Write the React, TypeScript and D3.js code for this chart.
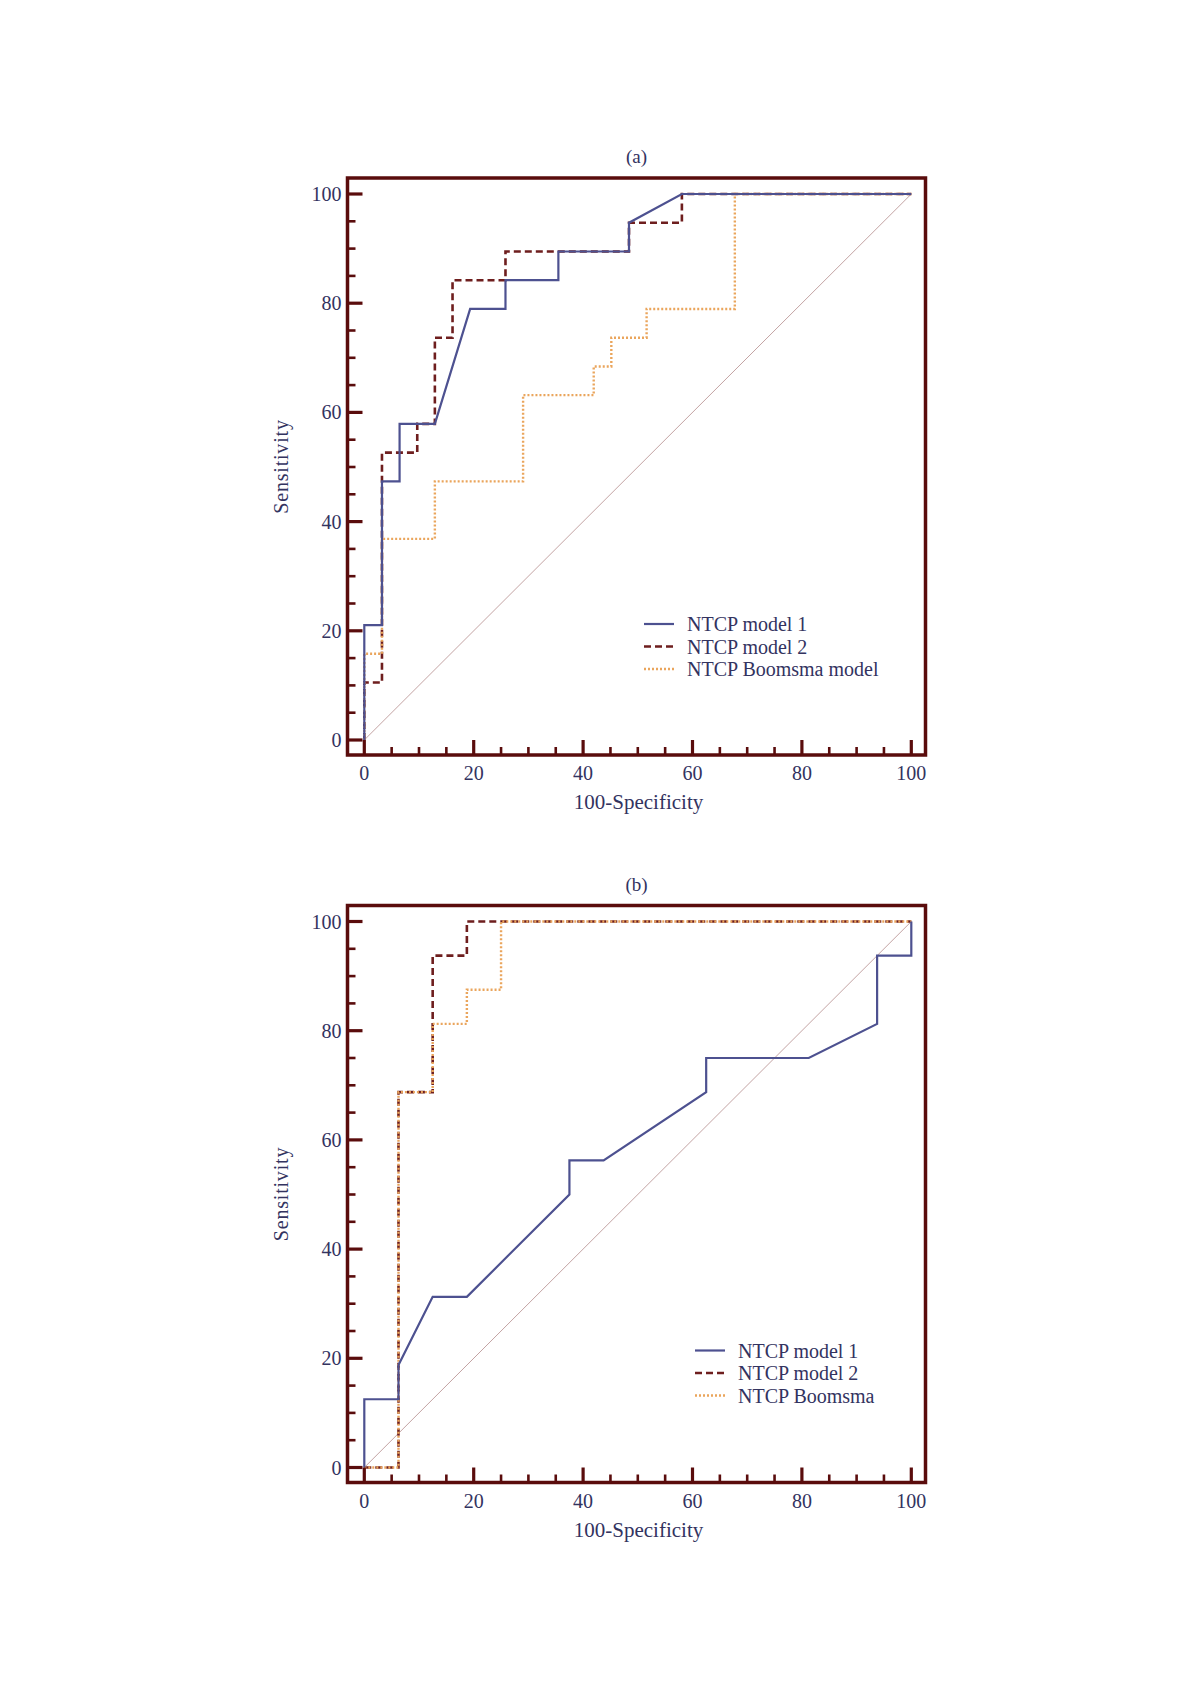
import React from "react";
import * as d3 from "d3";

// ---------- Data ----------
type Pt = [number, number];

const xTicks = [0, 20, 40, 60, 80, 100];
const yTicks = [0, 20, 40, 60, 80, 100];
const minorStep = 5;

const panelTitles = ["(a)", "(b)"];
const xAxisTitle = "100-Specificity";
const yAxisTitle = "Sensitivity";

// Panel (a)
const aModel1: Pt[] = [
  [0, 0], [0, 21.05], [3.23, 21.05], [3.23, 47.37], [6.45, 47.37], [6.45, 57.89],
  [12.9, 57.89], [19.35, 78.95], [25.81, 78.95], [25.81, 84.21], [35.48, 84.21],
  [35.48, 89.47], [48.39, 89.47], [48.39, 94.74], [58.06, 100], [100, 100],
];
const aModel2: Pt[] = [
  [0, 0], [0, 10.53], [3.23, 10.53], [3.23, 52.63], [9.68, 52.63], [9.68, 57.89],
  [12.9, 57.89], [12.9, 73.68], [16.13, 73.68], [16.13, 84.21], [25.81, 84.21],
  [25.81, 89.47], [48.39, 89.47], [48.39, 94.74], [58.06, 94.74], [58.06, 100], [100, 100],
];
const aBoomsma: Pt[] = [
  [0, 0], [0, 15.79], [3.23, 15.79], [3.23, 36.84], [12.9, 36.84], [12.9, 47.37],
  [29.03, 47.37], [29.03, 63.16], [41.94, 63.16], [41.94, 68.42], [45.16, 68.42],
  [45.16, 73.68], [51.61, 73.68], [51.61, 78.95], [67.74, 78.95], [67.74, 100], [100, 100],
];
const aLegend = ["NTCP model 1", "NTCP model 2", "NTCP Boomsma model"];

// Panel (b)
const bModel1: Pt[] = [
  [0, 0], [0, 12.5], [6.25, 12.5], [6.25, 18.75], [12.5, 31.25], [18.75, 31.25],
  [37.5, 50], [37.5, 56.25], [43.75, 56.25], [62.5, 68.75], [62.5, 75], [81.25, 75],
  [93.75, 81.25], [93.75, 93.75], [100, 93.75], [100, 100],
];
const bModel2: Pt[] = [
  [0, 0], [6.25, 0], [6.25, 68.75], [12.5, 68.75], [12.5, 93.75], [18.75, 93.75],
  [18.75, 100], [100, 100],
];
const bBoomsma: Pt[] = [
  [0, 0], [6.25, 0], [6.25, 68.75], [12.5, 68.75], [12.5, 81.25], [18.75, 81.25],
  [18.75, 87.5], [25, 87.5], [25, 100], [100, 100],
];
const bLegend = ["NTCP model 1", "NTCP model 2", "NTCP Boomsma"];

const diagonal: Pt[] = [[0, 0], [100, 100]];

// ---------- Styles ----------
const FRAME = "#5a0c0c";
const TEXT = "#33335f";
const FONT = "'Liberation Serif', 'DejaVu Serif', serif";
const seriesStyles = [
  { color: "#4d5190", width: 2.2, dash: "" },
  { color: "#6e1e1e", width: 2.6, dash: "7,4" },
  { color: "#eaa55c", width: 2.4, dash: "2,2" },
];

interface PanelProps {
  offsetY: number;
  title: string;
  series: Pt[][];
  legend: string[];
  legendX: number;
  legendY: number;
}

function Panel({ offsetY, title, series, legend, legendX, legendY }: PanelProps) {
  const x = d3.scaleLinear().domain([0, 100]).range([364.3, 911.3]);
  const y = d3.scaleLinear().domain([0, 100]).range([740 + offsetY, 194 + offsetY]);
  const frame = { left: 347.5, right: 925.5, top: 178 + offsetY, bottom: 755 + offsetY };
  const line = d3
    .line<Pt>()
    .x((d) => x(d[0]))
    .y((d) => y(d[1]));
  const minor = d3.range(0, 100 + 0.001, minorStep);
  const cx = (frame.left + frame.right) / 2;
  const cy = (frame.top + frame.bottom) / 2;

  return (
    <g>
      <text x={cx} y={frame.top - 15} textAnchor="middle" fontSize={19} fill={TEXT} fontFamily={FONT}>
        {title}
      </text>
      {/* diagonal */}
      <path d={line(diagonal) || ""} fill="none" stroke="#b48c8c" strokeWidth={0.8} />
      {/* curves: model 2, then Boomsma, then model 1 on top */}
      {[1, 2, 0].map((i) => (
        <path
          key={i}
          d={line(series[i]) || ""}
          fill="none"
          stroke={seriesStyles[i].color}
          strokeWidth={seriesStyles[i].width}
          strokeDasharray={seriesStyles[i].dash || undefined}
          strokeLinejoin="miter"
        />
      ))}
      {/* frame */}
      <rect
        x={frame.left}
        y={frame.top}
        width={frame.right - frame.left}
        height={frame.bottom - frame.top}
        fill="none"
        stroke={FRAME}
        strokeWidth={3.5}
      />
      {/* ticks */}
      {minor.map((v) => {
        const major = v % 20 === 0;
        const len = major ? 15 : 8;
        return (
          <g key={"t" + v}>
            <line x1={frame.left} x2={frame.left + len} y1={y(v)} y2={y(v)} stroke={FRAME} strokeWidth={major ? 3.2 : 2.6} />
            <line x1={x(v)} x2={x(v)} y1={frame.bottom} y2={frame.bottom - len} stroke={FRAME} strokeWidth={major ? 3.2 : 2.6} />
          </g>
        );
      })}
      {/* tick labels */}
      {yTicks.map((v) => (
        <text key={"yl" + v} x={frame.left - 6} y={y(v)} dy="0.35em" textAnchor="end" fontSize={20} fill={TEXT} fontFamily={FONT}>
          {v}
        </text>
      ))}
      {xTicks.map((v) => (
        <text key={"xl" + v} x={x(v)} y={frame.bottom + 18} dy="0.35em" textAnchor="middle" fontSize={20} fill={TEXT} fontFamily={FONT}>
          {v}
        </text>
      ))}
      <text x={cx + 2} y={frame.bottom + 47} dy="0.35em" textAnchor="middle" fontSize={21} fill={TEXT} fontFamily={FONT}>
        {xAxisTitle}
      </text>
      <text
        transform={`translate(${281},${cy}) rotate(-90)`}
        dy="0.35em"
        textAnchor="middle"
        fontSize={20}
        letterSpacing={0.8}
        fill={TEXT}
        fontFamily={FONT}
      >
        {yAxisTitle}
      </text>
      {/* legend */}
      {legend.map((label, i) => {
        const ly = legendY + offsetY + i * 22.5;
        return (
          <g key={"lg" + i}>
            <line
              x1={legendX}
              x2={legendX + 30}
              y1={ly}
              y2={ly}
              stroke={seriesStyles[i].color}
              strokeWidth={seriesStyles[i].width}
              strokeDasharray={seriesStyles[i].dash || undefined}
            />
            <text x={legendX + 43} y={ly} dy="0.35em" fontSize={20} fill={TEXT} fontFamily={FONT}>
              {label}
            </text>
          </g>
        );
      })}
    </g>
  );
}

export default function App() {
  return (
    <svg
      width={1200}
      height={1697}
      viewBox="0 0 1200 1697"
      style={{ position: "absolute", left: 0, top: 0, background: "#fff" }}
    >
      <rect width={1200} height={1697} fill="#fff" />
      <Panel
        offsetY={0}
        title={panelTitles[0]}
        series={[aModel1, aModel2, aBoomsma]}
        legend={aLegend}
        legendX={644}
        legendY={624}
      />
      <Panel
        offsetY={727.5}
        title={panelTitles[1]}
        series={[bModel1, bModel2, bBoomsma]}
        legend={bLegend}
        legendX={695}
        legendY={623}
      />
    </svg>
  );
}
